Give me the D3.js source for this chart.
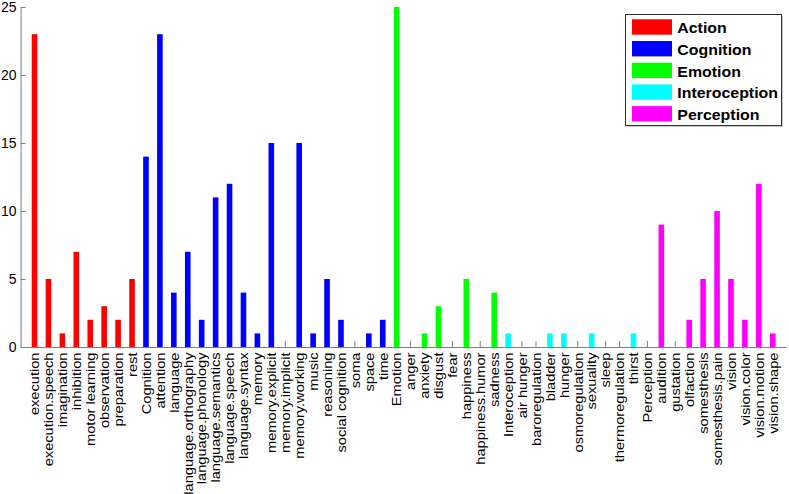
<!DOCTYPE html>
<html>
<head>
<meta charset="utf-8">
<script src="https://cdn.jsdelivr.net/npm/d3@7"></script>
<style>
  body { margin: 0; background: #fff; }
  text { font-family: "Liberation Sans", Arial, sans-serif; }
</style>
</head>
<body>
<div id="chart"></div>
<script>
var groups = ["Action", "Cognition", "Emotion", "Interoception", "Perception"];
var groupColors = ["#ff0000", "#0000ff", "#00ff00", "#00ffff", "#ff00ff"];

var actionLabels = ["execution", "execution.speech", "imagination", "inhibition", "motor learning", "observation", "preparation", "rest"];
var actionValues = [23, 5, 1, 7, 2, 3, 2, 5];

var cognitionLabels = ["Cognition", "attention", "language", "language.orthography", "language.phonology", "language.semantics", "language.speech", "language.syntax", "memory", "memory.explicit", "memory.implicit", "memory.working", "music", "reasoning", "social cognition", "soma", "space", "time"];
var cognitionValues = [14, 23, 4, 7, 2, 11, 12, 4, 1, 15, 0, 15, 1, 5, 2, 0, 1, 2];

var emotionLabels = ["Emotion", "anger", "anxiety", "disgust", "fear", "happiness", "happiness.humor", "sadness"];
var emotionValues = [25, 0, 1, 3, 0, 5, 0, 4];

var interoceptionLabels = ["Interoception", "air hunger", "baroregulation", "bladder", "hunger", "osmoregulation", "sexuality", "sleep", "thermoregulation", "thirst"];
var interoceptionValues = [1, 0, 0, 1, 1, 0, 1, 0, 0, 1];

var perceptionLabels = ["Perception", "audition", "gustation", "olfaction", "somesthesis", "somesthesis.pain", "vision", "vision.color", "vision.motion", "vision.shape"];
var perceptionValues = [0, 9, 0, 2, 5, 10, 5, 2, 12, 1];

var yTicks = [0, 5, 10, 15, 20, 25];

// flatten into one list of bars
var data = [];
[[actionLabels, actionValues], [cognitionLabels, cognitionValues], [emotionLabels, emotionValues],
 [interoceptionLabels, interoceptionValues], [perceptionLabels, perceptionValues]].forEach(function (g, gi) {
  g[0].forEach(function (name, i) {
    data.push({name: name, value: g[1][i], group: gi});
  });
});

var W = 789, H = 494,
    margin = {left: 20.6, right: 2.3, top: 7, bottom: 147},
    width = W - margin.left - margin.right,
    height = H - margin.top - margin.bottom;

var svg = d3.select("#chart").append("svg")
    .attr("width", W)
    .attr("height", H);

var g = svg.append("g")
    .attr("transform", "translate(" + margin.left + "," + margin.top + ")");

// matlab style: categories at 1..n, xlim [0, n+1]
var x = d3.scaleLinear().domain([0, data.length + 1]).range([0, width]);
var y = d3.scaleLinear().domain([0, 25]).range([height, 0]);
var barW = 5.6;

var axisColor = "#7f7f7f";

// x ticks (inside, upward)
g.selectAll(".xtick")
    .data(data)
  .enter().append("line")
    .attr("x1", function (d, i) { return x(i + 1); })
    .attr("x2", function (d, i) { return x(i + 1); })
    .attr("y1", height)
    .attr("y2", height - 6)
    .attr("stroke", axisColor)
    .attr("stroke-width", 1);

g.selectAll(".bar")
    .data(data)
  .enter().append("rect")
    .attr("class", "bar")
    .attr("x", function (d, i) { return x(i + 1) - barW / 2; })
    .attr("width", barW)
    .attr("y", function (d) { return y(d.value); })
    .attr("height", function (d) { return height - y(d.value); })
    .attr("fill", function (d) { return groupColors[d.group]; });

// y axis
var yAxis = d3.axisLeft(y).tickValues(yTicks).tickSize(-5).tickPadding(4);
var ya = g.append("g").call(yAxis);
ya.select(".domain").remove();
ya.selectAll(".tick line").attr("stroke", axisColor);
ya.selectAll(".tick text").attr("font-size", 14).attr("fill", "#000")
    .style("font-family", "'Liberation Sans', Arial, sans-serif");

g.append("line")
    .attr("x1", 0.5).attr("x2", 0.5)
    .attr("y1", 0).attr("y2", height)
    .attr("stroke", axisColor);
g.append("line")
    .attr("x1", 0).attr("x2", width)
    .attr("y1", height + 0.5).attr("y2", height + 0.5)
    .attr("stroke", axisColor);

// rotated category labels (a bit stretched along the text like the source)
g.selectAll(".xlabel")
    .data(data)
  .enter().append("text")
    .attr("class", "xlabel")
    .attr("transform", function (d, i) {
      return "translate(" + (x(i + 1) + 4.8) + "," + (height + 5.5) + ") rotate(-90) scale(1.1,1)";
    })
    .attr("text-anchor", "end")
    .attr("font-size", 13.3)
    .attr("fill", "#000")
    .text(function (d) { return d.name; });

// legend
var lg = svg.append("g").attr("transform", "translate(625.5,14.5)");
lg.append("rect")
    .attr("x", 1.2).attr("y", 1.2)
    .attr("width", 156).attr("height", 111)
    .attr("fill", "#b0b0b0");
lg.append("rect")
    .attr("width", 156).attr("height", 111)
    .attr("fill", "#fff")
    .attr("stroke", "#333")
    .attr("stroke-width", 1);
var items = lg.selectAll(".item")
    .data(groups)
  .enter().append("g")
    .attr("transform", function (d, i) { return "translate(6.5," + (4.8 + i * 21.7) + ")"; });
items.append("rect")
    .attr("width", 40).attr("height", 15.4)
    .attr("fill", function (d, i) { return groupColors[i]; });
items.append("text")
    .attr("x", 45.3).attr("y", 14)
    .attr("font-size", 15)
    .attr("font-weight", "bold")
    .attr("fill", "#000")
    .text(function (d) { return d; })
    .attr("textLength", function () { return this.getComputedTextLength() * 1.06; })
    .attr("lengthAdjust", "spacingAndGlyphs");
</script>
</body>
</html>
